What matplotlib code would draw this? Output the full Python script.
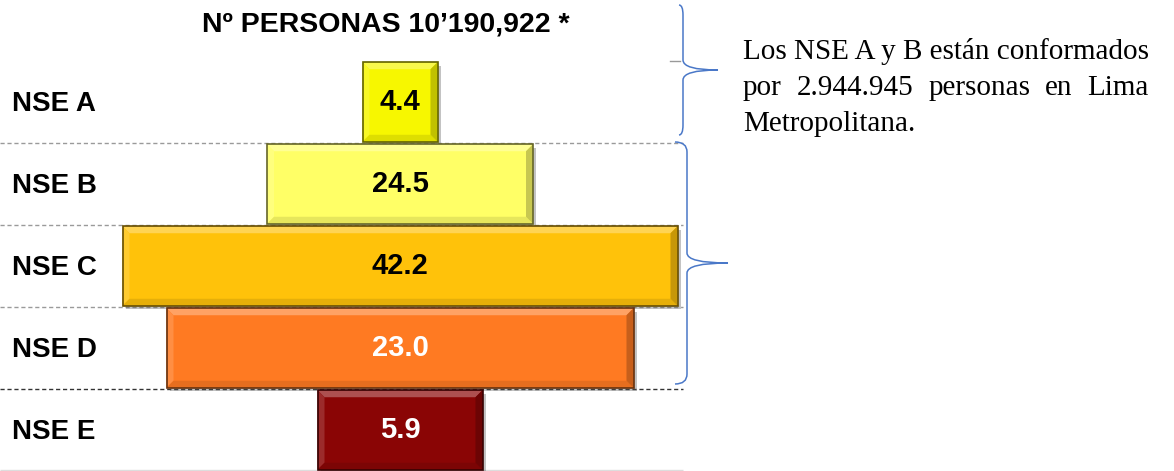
import matplotlib
matplotlib.use('Agg')
import matplotlib.pyplot as plt
from matplotlib.patches import Polygon, PathPatch
from matplotlib.path import Path
from matplotlib.colors import to_rgb
import numpy as np

# datos del grafico
niveles = ['NSE A', 'NSE B', 'NSE C', 'NSE D', 'NSE E']
porcentajes = [4.4, 24.5, 42.2, 23.0, 5.9]
ancho = [75, 266, 555, 467, 165]   # ancho de barra como aparece en la piramide
colores = ['#f7f700', '#ffff66', '#ffc20a', '#ff7a22', '#8a0505']
color_texto = ['black', 'black', 'black', 'white', 'white']
titulo = 'Nº PERSONAS 10’190,922 *'
nota = ['Los NSE A y B están conformados',
        'por 2.944.945 personas en Lima',
        'Metropolitana.']

centro = 400


def mezcla(c, otro, t):
    c = np.array(to_rgb(c))
    o = np.array(to_rgb(otro))
    return tuple(c * (1 - t) + o * t)


def bisel(ax, bar, color):
    x, y = bar.get_x(), bar.get_y()
    w, h = bar.get_width(), bar.get_height()
    dx, dy = 7, 7 / 82
    x0, x1, y0, y1 = x, x + w, y, y + h   # y0 arriba (eje invertido)
    ix0, ix1, iy0, iy1 = x0 + dx, x1 - dx, y0 + dy, y1 - dy
    caras = [
        ([(x0, y0), (x1, y0), (ix1, iy0), (ix0, iy0)], mezcla(color, 'white', 0.3)),
        ([(x0, y0), (ix0, iy0), (ix0, iy1), (x0, y1)], mezcla(color, 'white', 0.15)),
        ([(x0, y1), (ix0, iy1), (ix1, iy1), (x1, y1)], mezcla(color, 'black', 0.1)),
        ([(x1, y0), (x1, y1), (ix1, iy1), (ix1, iy0)], mezcla(color, 'black', 0.22)),
    ]
    for pts, c in caras:
        ax.add_patch(Polygon(pts, closed=True, facecolor=c, edgecolor='none', zorder=3))
    ax.add_patch(Polygon([(x0, y0), (x1, y0), (x1, y1), (x0, y1)], closed=True,
                         facecolor='none', edgecolor=mezcla(color, 'black', 0.6),
                         linewidth=1.2, zorder=4))


fig = plt.figure(figsize=(11.74, 4.71), dpi=100)

# piramide
ax = fig.add_axes([0, 0, 690 / 1174, 410 / 471])
ax.set_xlim(0, 690)
ax.set_ylim(4.5, -0.5)
ax.axis('off')

y = np.arange(len(niveles))
izq = centro - np.array(ancho) / 2

ax.barh(y + 0.04, ancho, left=izq + 3, height=0.97, color='#555555', alpha=0.35, zorder=1)
barras = ax.barh(y, ancho, left=izq, height=0.97, color=colores, zorder=2)
for b, c in zip(barras, colores):
    bisel(ax, b, c)

ax.hlines([0.5, 1.5, 2.5], 0, 683, colors='#9a9a9a', linestyles=(0, (3, 2)), linewidth=1, zorder=0)
ax.hlines([3.5], 0, 683, colors='#333333', linestyles=(0, (3, 2)), linewidth=1, zorder=0)
ax.hlines([4.49], 0, 683, colors='#dddddd', linewidth=1, zorder=0)

for i, nombre in enumerate(niveles):
    ax.text(12, i + 0.03, nombre, ha='left', va='center', fontsize=20,
            fontweight='bold', family='Liberation Sans')
    ax.text(centro, i, f'{porcentajes[i]:.1f}', ha='center', va='center', fontsize=21,
            fontweight='bold', family='Liberation Sans', color=color_texto[i], zorder=5)

# capa superior en pixeles para titulo, llaves y nota
ov = fig.add_axes([0, 0, 1, 1], facecolor='none')
ov.set_xlim(0, 1174)
ov.set_ylim(471, 0)
ov.axis('off')

ov.text(386, 25, titulo, ha='center', va='center', fontsize=20.5,
        fontweight='bold', family='Liberation Sans')


def llave(ax, x, y0, y1, xp, yp, rizo):
    r = 10
    verts = [(x - rizo, y0), (x, y0), (x, y0 + r),
             (x, yp - r), (x, yp), (xp, yp),
             (x, yp), (x, yp + r),
             (x, y1 - r), (x, y1), (x - rizo, y1)]
    codes = [Path.MOVETO, Path.CURVE3, Path.CURVE3,
             Path.LINETO, Path.CURVE3, Path.CURVE3,
             Path.CURVE3, Path.CURVE3,
             Path.LINETO, Path.CURVE3, Path.CURVE3]
    ax.add_patch(PathPatch(Path(verts, codes), facecolor='none',
                           edgecolor='#4a78c8', linewidth=1.1))


llave(ov, 683, 5, 135, 718, 70, 4)
llave(ov, 687, 142, 384, 728, 263, 12)
ov.plot([670, 680], [61, 61], color='#999999', linewidth=1)

# nota justificada
lineas_y = [59, 95, 131]
x_izq = 743
t1 = ov.text(x_izq, lineas_y[0], nota[0], ha='left', va='baseline', fontsize=21,
             family='Liberation Serif')
ov.text(x_izq, lineas_y[2], nota[2], ha='left', va='baseline', fontsize=21,
        family='Liberation Serif')
palabras = nota[1].split()
textos = [ov.text(x_izq, lineas_y[1], p, ha='left', va='baseline', fontsize=21,
                  family='Liberation Serif') for p in palabras]
fig.canvas.draw()
r = fig.canvas.get_renderer()
ancho_linea = t1.get_window_extent(r).width
anchos = [t.get_window_extent(r).width for t in textos]
hueco = (ancho_linea - sum(anchos)) / (len(palabras) - 1)
pos = x_izq
for t, w in zip(textos, anchos):
    t.set_x(pos)
    pos += w + hueco

fig.savefig('out.png', dpi=100)
